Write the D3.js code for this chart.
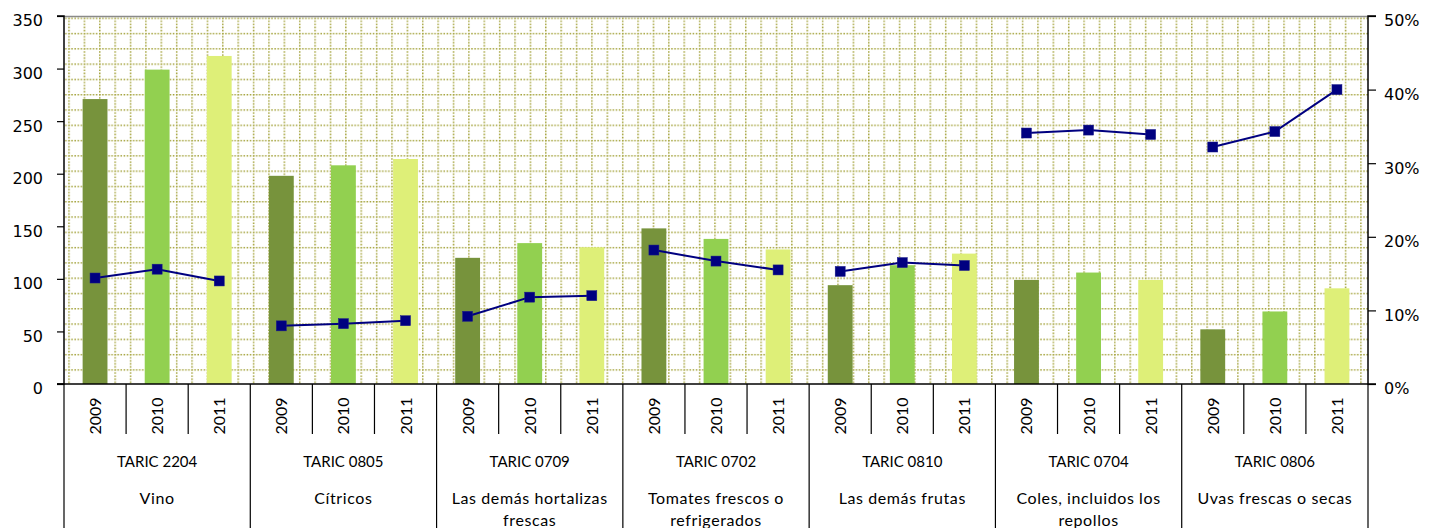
<!DOCTYPE html>
<html><head><meta charset="utf-8">
<script src="https://cdn.jsdelivr.net/npm/d3@7"></script>
<style>
html,body{margin:0;padding:0;background:#fff;}
svg{display:block;}
</style></head>
<body>
<svg id="chart" width="1438" height="528"></svg>
<script>
const codes = ["TARIC 2204","TARIC 0805","TARIC 0709","TARIC 0702","TARIC 0810","TARIC 0704","TARIC 0806"];
const names = ["Vino","Cítricos","Las demás hortalizas frescas","Tomates frescos o refrigerados","Las demás frutas","Coles, incluidos los repollos","Uvas frescas o secas"];
const years = ["2009","2010","2011"];
const values2009 = [271,198,120,148,94,99,52];
const values2010 = [299,208,134,138,113,106,69];
const values2011 = [312,214,130,128,124,99,91];
const share2009 = [0.144,0.079,0.092,0.182,0.153,0.341,0.322];
const share2010 = [0.156,0.082,0.118,0.167,0.165,0.345,0.343];
const share2011 = [0.140,0.086,0.120,0.155,0.161,0.339,0.400];
const leftTicks = [0,50,100,150,200,250,300,350];
const rightTicks = [0,0.1,0.2,0.3,0.4,0.5];
const barColors = ["#77933C","#92D050","#DEEF78"];

const valuesByYear = [values2009,values2010,values2011];
const shareByYear = [share2009,share2010,share2011];

const L = 64, R = 1368, T = 16, B = 384;
const svg = d3.select("#chart");

const x0 = d3.scaleBand().domain(codes).range([L,R]).padding(0);
const x1 = d3.scaleBand().domain(years).range([0,x0.bandwidth()]).paddingInner(0.6).paddingOuter(0.3);
const slot = x0.bandwidth()/3;
const yL = d3.scaleLinear().domain([0,350]).range([B,T]);
const yR = d3.scaleLinear().domain([0,0.5]).range([B,T]);

// pattern (dotted grid)
const defs = svg.append("defs");
const pw = 15.38, ph = 15.29;
const pat = defs.append("pattern").attr("id","dotgrid").attr("patternUnits","userSpaceOnUse")
  .attr("width",pw).attr("height",ph).attr("x",69-0.75).attr("y",18.3-0.75);
const gc = "#A3A23A";
pat.append("line").attr("x1",0).attr("x2",pw).attr("y1",0.75).attr("y2",0.75)
  .attr("stroke",gc).attr("stroke-width",1.5).attr("stroke-dasharray",(pw/5/2)+" "+(pw/5/2));
pat.append("line").attr("x1",0.75).attr("x2",0.75).attr("y1",0).attr("y2",ph)
  .attr("stroke",gc).attr("stroke-width",1.5).attr("stroke-dasharray",(ph/5/2)+" "+(ph/5/2));

svg.append("rect").attr("x",L).attr("y",T).attr("width",R-L).attr("height",B-T).attr("fill","#fff");
svg.append("rect").attr("x",L).attr("y",T).attr("width",R-L).attr("height",B-T).attr("fill","url(#dotgrid)");
svg.append("line").attr("x1",L).attr("x2",R).attr("y1",T+0.5).attr("y2",T+0.5).attr("stroke","#8a8a8a").attr("stroke-width",1.5);

// bars
codes.forEach((c,gi)=>{
  years.forEach((yr,yi)=>{
    const v = valuesByYear[yi][gi];
    svg.append("rect")
      .attr("x",x0(c)+x1(yr)).attr("width",x1.bandwidth())
      .attr("y",yL(v)).attr("height",yL(0)-yL(v))
      .attr("fill",barColors[yi]);
  });
});

// lines
const line = d3.line().x(d=>d[0]).y(d=>d[1]);
codes.forEach((c,gi)=>{
  const pts = years.map((yr,yi)=>[x0(c)+x1(yr)+x1.bandwidth()/2, yR(shareByYear[yi][gi])]);
  svg.append("path").attr("d",line(pts)).attr("fill","none").attr("stroke","#000080").attr("stroke-width",2);
  svg.selectAll(null).data(pts).enter().append("rect")
    .attr("x",d=>d[0]-5).attr("y",d=>d[1]-5).attr("width",10).attr("height",10)
    .attr("fill","#000080").attr("stroke","#1a1a8a").attr("stroke-width",0.5);
});

// axes
const axisFont = "'DejaVu Sans', Verdana, sans-serif";
const gL = svg.append("g").attr("transform",`translate(${L},0)`)
  .call(d3.axisLeft(yL).tickValues(leftTicks).tickSize(7).tickPadding(14));
const gR = svg.append("g").attr("transform",`translate(${R},0)`)
  .call(d3.axisRight(yR).tickValues(rightTicks).tickSize(8).tickPadding(8).tickFormat(d3.format(".0%")));
[gL,gR].forEach(g=>{
  g.select(".domain").attr("stroke","#000").attr("stroke-width",1.5);
  g.selectAll(".tick line").attr("stroke","#000").attr("stroke-width",1.2);
  g.selectAll(".tick text").attr("font-family",axisFont).attr("font-size",16).attr("fill","#000").attr("dy","0.62em");
});
gL.select(".domain").attr("d",`M-7,${T}H0V${B}H-7`);
gR.select(".domain").attr("d",`M8,${T}H0V${B}H8`);

// category axis
svg.append("line").attr("x1",L-7).attr("x2",R).attr("y1",B).attr("y2",B).attr("stroke","#000").attr("stroke-width",1.5);
const catFont = "Lato, 'Noto Sans', sans-serif";
codes.forEach((c,gi)=>{
  const gx = x0(c);
  svg.append("line").attr("x1",gx).attr("x2",gx).attr("y1",B).attr("y2",528).attr("stroke","#000").attr("stroke-width",1.2);
  for(let k=1;k<3;k++){
    const sx = gx + k*slot;
    svg.append("line").attr("x1",sx).attr("x2",sx).attr("y1",B).attr("y2",434).attr("stroke","#000").attr("stroke-width",1.2);
  }
  years.forEach((yr,yi)=>{
    const cx = gx + x1(yr) + x1.bandwidth()/2;
    svg.append("text").attr("transform",`translate(${cx+6},416) rotate(-90)`)
      .attr("text-anchor","middle").attr("font-family",catFont).attr("font-size",16).attr("fill","#000").text(yr);
  });
  const mx = gx + x0.bandwidth()/2;
  svg.append("text").attr("x",mx).attr("y",467).attr("text-anchor","middle")
    .attr("font-family",catFont).attr("font-size",15).attr("fill","#000").text(c);
  // wrapped name
  const t = svg.append("text").attr("x",mx).attr("y",504).attr("text-anchor","middle")
    .attr("font-family",catFont).attr("font-size",16).attr("letter-spacing",0.6).attr("fill","#000");
  const words = names[gi].split(" ");
  let lineWords = [], lineNo = 0;
  let ts = t.append("tspan").attr("x",mx).attr("y",504);
  words.forEach(w=>{
    lineWords.push(w);
    ts.text(lineWords.join(" "));
    if(ts.node().getComputedTextLength() > 172 && lineWords.length>1){
      lineWords.pop();
      ts.text(lineWords.join(" "));
      lineWords = [w];
      lineNo++;
      ts = t.append("tspan").attr("x",mx).attr("y",504+lineNo*22).text(w);
    }
  });
});
svg.append("line").attr("x1",R).attr("x2",R).attr("y1",B).attr("y2",528).attr("stroke","#000").attr("stroke-width",1.2);
</script>
</body></html>
